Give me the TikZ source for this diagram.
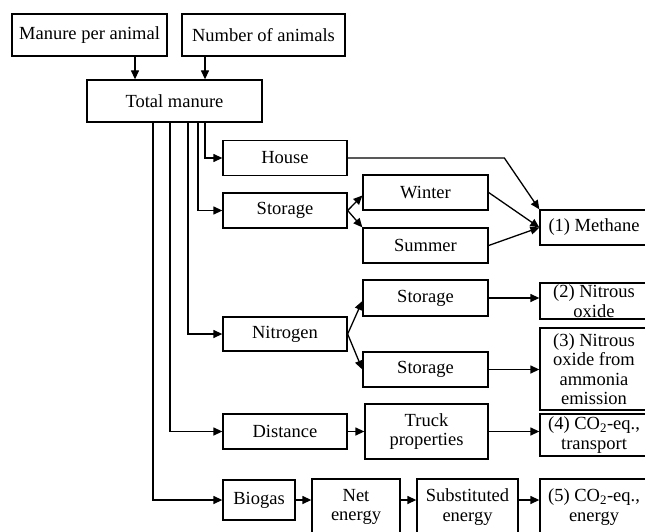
\documentclass[tikz,border=0pt]{standalone}
\usepackage{fontspec}
\setmainfont{Liberation Serif}
\usetikzlibrary{arrows.meta}
\tikzset{
  box/.style={draw, line width=1.3pt, align=center, inner sep=0pt},
  arr/.style={-{Triangle[length=9pt,width=8pt]}, line width=1.3pt}
}
\begin{document}
\begin{tikzpicture}[x=1pt,y=-1pt,font=\fontsize{18.5}{19.5}\selectfont]
  \useasboundingbox (0,0) rectangle (645,532);
  \clip (0,0) rectangle (645,532);
  \draw[box]
    (89.5,35) node[box,minimum width=155,minimum height=42] (mpa){Manure per animal}
    (263.5,35) node[box,minimum width=163,minimum height=42] (na){Number of animals}
    (174.5,101) node[box,minimum width=175,minimum height=42] (tm){Total manure}
    (285,158) node[box,minimum width=124,minimum height=35] (house){House}
    (285,210.5) node[box,minimum width=124,minimum height=35] (stor){Storage}
    (425.5,192.5) node[box,minimum width=125,minimum height=35] (win){Winter}
    (425.5,245.5) node[box,minimum width=125,minimum height=35] (sum){Summer}
    (594,227.5) node[box,minimum width=108,minimum height=35] (e1){(1) Methane}
    (285,334) node[box,minimum width=124,minimum height=34] (nit){Nitrogen}
    (425.5,298) node[box,minimum width=125,minimum height=36] (st2){Storage}
    (425.5,369.5) node[box,minimum width=125,minimum height=35] (st3){Storage}
    (594,301) node[box,minimum width=108,minimum height=36] (e2){(2) Nitrous\\oxide}
    (594,369) node[box,minimum width=108,minimum height=82] (e3){(3) Nitrous\\oxide from\\ammonia\\emission}
    (285,431.5) node[box,minimum width=124,minimum height=35] (dist){Distance}
    (426.5,431.5) node[box,minimum width=123,minimum height=55] (truck){Truck\\properties}
    (594,435) node[box,minimum width=108,minimum height=42] (e4){(4) CO\textsubscript{2}-eq.,\\transport}
    (259,500) node[box,minimum width=72,minimum height=40] (bio){Biogas}
    (356,507) node[box,minimum width=88,minimum height=56] (net){Net\\energy}
    (467.5,507) node[box,minimum width=101,minimum height=56] (subst){Substituted\\energy}
    (594,507) node[box,minimum width=108,minimum height=56] (e5){(5) CO\textsubscript{2}-eq.,\\energy};
  \begin{scope}[arr]
    \draw ([xshift=45.5]mpa.south) -- ([xshift=45.5]mpa.south |- tm.north);
    \draw ([xshift=-58.5]na.south) -- ([xshift=-58.5]na.south |- tm.north);
    \draw ([xshift=30.5]tm.south) |- (house.west);
    \draw ([xshift=23.5]tm.south) |- (stor.west);
    \draw ([xshift=13.5]tm.south) |- (nit.west);
    \draw ([xshift=-4.5]tm.south) |- (dist.west);
    \draw ([xshift=-21.5]tm.south) |- (bio.west);
    \draw (house.east) -- ([xshift=-35]e1.north west |- house.east) -- (e1.north west);
    \draw (stor.east) -- ([yshift=-3]win.west);
    \draw (stor.east) -- (sum.north west);
    \draw (win.east) -- (e1.west);
    \draw (sum.east) -- (e1.west);
    \draw (nit.east) -- ([yshift=-3]st2.west);
    \draw (nit.east) -- (st3.west);
    \draw (st2.east) -- (st2.east -| e2.west);
    \draw (st3.east) -- (st3.east -| e3.west);
    \draw (dist.east) -- (truck.west);
    \draw (truck.east) -- (truck.east -| e4.west);
    \draw (bio.east) -- (bio.east -| net.west);
    \draw (net.east |- bio.east) -- (subst.west |- bio.east);
    \draw (subst.east |- bio.east) -- (e5.west |- bio.east);
  \end{scope}
\end{tikzpicture}
\end{document}
